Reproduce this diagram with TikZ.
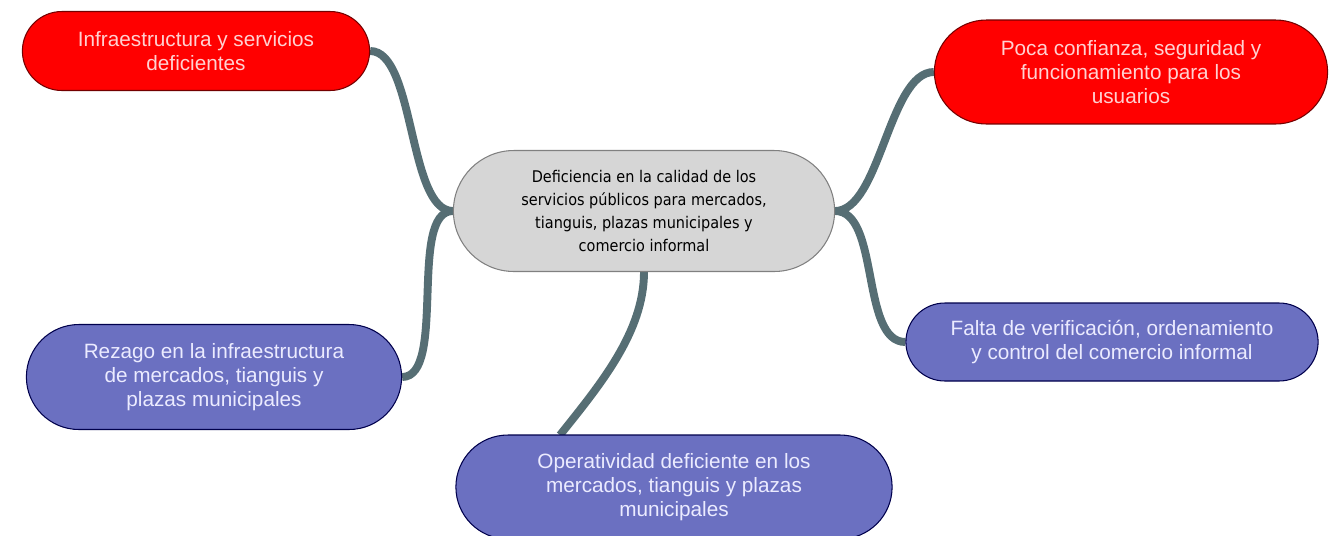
\documentclass[tikz,border=0pt]{standalone}
\usepackage{fontspec}
\setmainfont{Liberation Sans}
\newfontfamily\condfont{DejaVu Sans Condensed}
\usetikzlibrary{shapes.misc,backgrounds}
\definecolor{topicred}{HTML}{FF0000}
\definecolor{topicblue}{HTML}{6B70C1}
\definecolor{centergray}{HTML}{D6D6D6}
\definecolor{branchline}{HTML}{566E74}
\begin{document}
\begin{tikzpicture}[x=0.02cm,y=-0.02cm,
  redtopic/.style={draw=red!45!black, fill=topicred, rounded rectangle, line width=0.6pt, align=center, text=red!18!white, font=\fontsize{11.8}{13.8}\selectfont},
  bluetopic/.style={draw=blue!30!black, fill=topicblue, rounded rectangle, line width=0.6pt, align=center, text=blue!8!white, font=\fontsize{11.8}{13.8}\selectfont},
  branch/.style={draw=branchline, line width=4.5pt}]
\useasboundingbox (0,0) rectangle (1342,535);
\clip (0,0) rectangle (1342,535);
\node[draw=black!50, fill=centergray, rounded rectangle, line width=0.6pt, minimum width=7.86cm, minimum height=2.42cm, align=center, font=\condfont\fontsize{9.15}{13}\selectfont] (c) at (644,211) {Deficiencia en la calidad de los\\servicios públicos para mercados,\\tianguis, plazas municipales y\\comercio informal};
\node[redtopic, minimum width=7.18cm, minimum height=1.58cm] (a) at (196,51) {Infraestructura y servicios\\deficientes};
\node[redtopic, minimum width=8.1cm, minimum height=2.08cm] (b) at (1131,72) {Poca confianza, seguridad y\\funcionamiento para los\\usuarios};
\node[bluetopic, minimum width=8.48cm, minimum height=1.56cm] (d) at (1112,342) {Falta de verificación, ordenamiento\\y control del comercio informal};
\node[bluetopic, minimum width=7.74cm, minimum height=2.1cm] (e) at (214,377) {Rezago en la infraestructura\\de mercados, tianguis y\\plazas municipales};
\node[bluetopic, minimum width=8.96cm, minimum height=2.08cm] (f) at (674,487) {Operatividad deficiente en los\\mercados, tianguis y plazas\\municipales};
\coordinate (ftop) at (560,435);
\begin{scope}[on background layer]
\draw[branch] (c.west) .. controls +(-45,0) and +(45,0) .. (a.east);
\draw[branch] (c.west) .. controls +(-45,0) and +(45,0) .. (e.east);
\draw[branch] (c.east) .. controls +(45,0) and +(-45,0) .. (b.west);
\draw[branch] (c.east) .. controls +(45,0) and +(-45,0) .. (d.west);
\draw[branch] (c.south) .. controls +(0,60) and +(40,-50) .. (ftop);
\end{scope}
\end{tikzpicture}
\end{document}
